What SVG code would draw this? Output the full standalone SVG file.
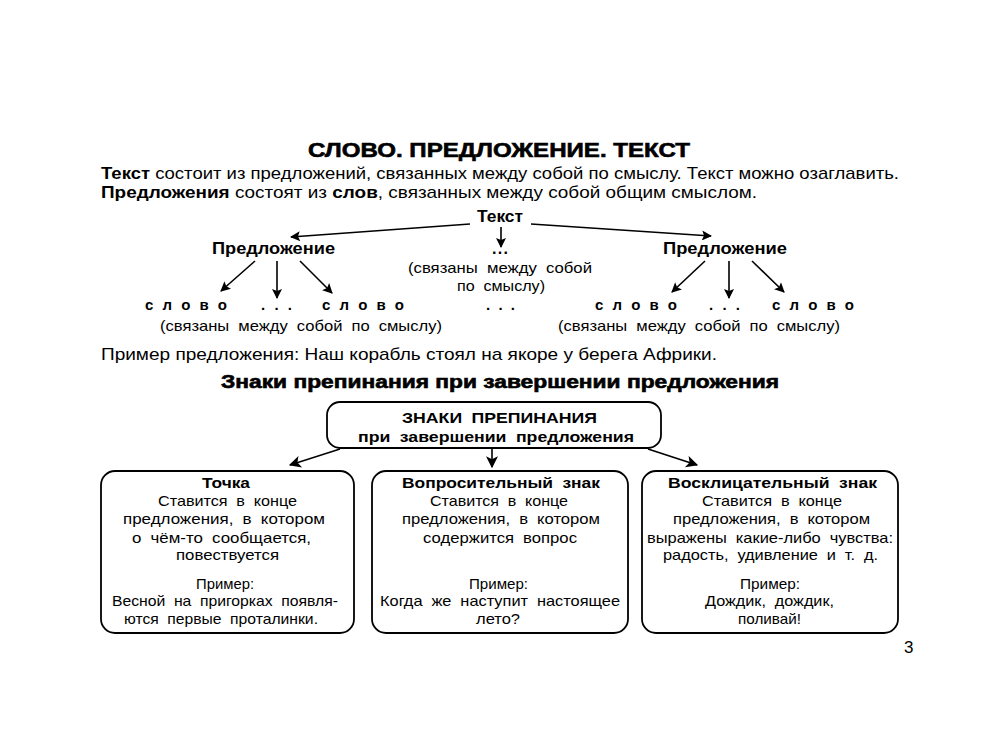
<svg xmlns="http://www.w3.org/2000/svg" width="1000" height="733" viewBox="0 0 1000 733">
<defs>
<marker id="ah" viewBox="0 0 10 10" refX="9" refY="5" markerWidth="11" markerHeight="10" markerUnits="userSpaceOnUse" orient="auto">
<path d="M0,0 L10,5 L0,10 L2,5 z" fill="#000"/>
</marker>
<marker id="ahs" viewBox="0 0 10 10" refX="9" refY="5" markerWidth="14" markerHeight="12" markerUnits="userSpaceOnUse" orient="auto">
<path d="M0,0 L10,5 L0,10 L2.5,5 z" fill="#000"/>
</marker>
<style>
text{font-family:"Liberation Sans",Arial,sans-serif;fill:#000}
.n{font-size:17px}
.b{font-weight:bold}
.hv{font-weight:bold;stroke:#000;stroke-width:0.6}
.bx{font-size:15px;word-spacing:4px}
.md{font-size:15px;word-spacing:4px}
.sp{font-size:15px;font-weight:bold}
.ln{stroke:#000;stroke-width:1.6;fill:none}
.box{fill:#fff;stroke:#000;stroke-width:1.8}
</style>
</defs>
<rect width="1000" height="733" fill="#fff"/>

<g id="title">
<text x="308" y="157" class="hv" font-size="20" textLength="382" lengthAdjust="spacingAndGlyphs">СЛОВО. ПРЕДЛОЖЕНИЕ. ТЕКСТ</text>
</g>
<g id="intro">
<text x="101" y="179" class="n" textLength="798" lengthAdjust="spacingAndGlyphs"><tspan class="b">Текст</tspan> состоит из предложений, связанных между собой по смыслу. Текст можно озаглавить.</text>
<text x="101" y="198" class="n" textLength="656" lengthAdjust="spacingAndGlyphs"><tspan class="b">Предложения</tspan> состоят из <tspan class="b">слов</tspan>, связанных между собой общим смыслом.</text>
</g>

<g id="connectors">
<line class="ln" x1="470" y1="224" x2="291" y2="237" marker-end="url(#ah)"/>
<line class="ln" x1="501" y1="227" x2="501" y2="247" marker-end="url(#ah)"/>
<line class="ln" x1="531" y1="224" x2="711" y2="236" marker-end="url(#ah)"/>
<line class="ln" x1="255" y1="261" x2="221" y2="291" marker-end="url(#ah)"/>
<line class="ln" x1="277" y1="261" x2="277" y2="298" marker-end="url(#ah)"/>
<line class="ln" x1="300" y1="261" x2="332" y2="293" marker-end="url(#ah)"/>
<line class="ln" x1="705" y1="261" x2="672" y2="292" marker-end="url(#ah)"/>
<line class="ln" x1="729" y1="261" x2="729" y2="298" marker-end="url(#ah)"/>
<line class="ln" x1="752" y1="261" x2="784" y2="292" marker-end="url(#ah)"/>
<line class="ln" x1="340" y1="449" x2="290" y2="465" marker-end="url(#ahs)"/>
<line class="ln" x1="492" y1="449" x2="492" y2="467" marker-end="url(#ahs)"/>
<line class="ln" x1="648" y1="449" x2="697" y2="465" marker-end="url(#ahs)"/>
</g>

<g id="tekst"><text x="477" y="222" class="b" font-size="16" textLength="46" lengthAdjust="spacingAndGlyphs">Текст</text></g>
<g id="pred-left"><text x="212" y="254" class="b" font-size="16.5" textLength="123" lengthAdjust="spacingAndGlyphs">Предложение</text></g>
<g id="pred-mid">
<text x="492" y="254" class="b" font-size="16" textLength="16" lengthAdjust="spacing">...</text>
<text x="408" y="273" class="md" textLength="184" lengthAdjust="spacingAndGlyphs">(связаны между собой</text>
<text x="457" y="291" class="md" textLength="88" lengthAdjust="spacingAndGlyphs">по смыслу)</text>
</g>
<g id="pred-right"><text x="663" y="254" class="b" font-size="16.5" textLength="124" lengthAdjust="spacingAndGlyphs">Предложение</text></g>

<g id="words-left">
<text x="145" y="310" class="sp" textLength="82" lengthAdjust="spacing">слово</text>
<text x="261" y="310" class="sp" textLength="31" lengthAdjust="spacing">...</text>
<text x="322" y="310" class="sp" textLength="82" lengthAdjust="spacing">слово</text>
<text x="160" y="331" class="md" textLength="282" lengthAdjust="spacingAndGlyphs">(связаны между собой по смыслу)</text>
</g>
<g id="words-mid"><text x="486" y="310" class="sp" textLength="29" lengthAdjust="spacing">...</text></g>
<g id="words-right">
<text x="595" y="310" class="sp" textLength="82" lengthAdjust="spacing">слово</text>
<text x="709" y="310" class="sp" textLength="31" lengthAdjust="spacing">...</text>
<text x="772" y="310" class="sp" textLength="82" lengthAdjust="spacing">слово</text>
<text x="558" y="331" class="md" textLength="282" lengthAdjust="spacingAndGlyphs">(связаны между собой по смыслу)</text>
</g>

<g id="example">
<text x="101" y="360" class="n" textLength="616" lengthAdjust="spacingAndGlyphs">Пример предложения: Наш корабль стоял на якоре у берега Африки.</text>
</g>
<g id="subtitle">
<text x="221" y="388" class="hv" font-size="18" textLength="558" lengthAdjust="spacingAndGlyphs">Знаки препинания при завершении предложения</text>
</g>

<g id="box-top">
<rect class="box" x="327" y="402" width="334" height="46" rx="13"/>
<text x="402" y="423" class="b" font-size="15.5" word-spacing="4" textLength="195" lengthAdjust="spacingAndGlyphs">ЗНАКИ ПРЕПИНАНИЯ</text>
<text x="358" y="442" class="b" font-size="15.5" word-spacing="4" textLength="276" lengthAdjust="spacingAndGlyphs">при завершении предложения</text>
</g>

<g id="box-tochka">
<rect class="box" x="101" y="471" width="253" height="162" rx="14"/>
<text x="202" y="488" class="bx b" textLength="48" lengthAdjust="spacingAndGlyphs">Точка</text>
<text x="158" y="506" class="bx" textLength="139" lengthAdjust="spacingAndGlyphs">Ставится в конце</text>
<text x="123" y="524" class="bx" textLength="202" lengthAdjust="spacingAndGlyphs">предложения, в котором</text>
<text x="132" y="543" class="bx" textLength="179" lengthAdjust="spacingAndGlyphs">о чём-то сообщается,</text>
<text x="176" y="560" class="bx" textLength="103" lengthAdjust="spacingAndGlyphs">повествуется</text>
<text x="196" y="589" class="bx" textLength="58" lengthAdjust="spacingAndGlyphs">Пример:</text>
<text x="112" y="606" class="bx" textLength="226" lengthAdjust="spacingAndGlyphs">Весной на пригорках появля-</text>
<text x="124" y="624" class="bx" textLength="194" lengthAdjust="spacingAndGlyphs">ются первые проталинки.</text>
</g>

<g id="box-vopros">
<rect class="box" x="372" y="471" width="256" height="162" rx="14"/>
<text x="402" y="488" class="bx b" textLength="198" lengthAdjust="spacingAndGlyphs">Вопросительный знак</text>
<text x="430" y="506" class="bx" textLength="138" lengthAdjust="spacingAndGlyphs">Ставится в конце</text>
<text x="402" y="524" class="bx" textLength="198" lengthAdjust="spacingAndGlyphs">предложения, в котором</text>
<text x="423" y="543" class="bx" textLength="154" lengthAdjust="spacingAndGlyphs">содержится вопрос</text>
<text x="469" y="589" class="bx" textLength="59" lengthAdjust="spacingAndGlyphs">Пример:</text>
<text x="380" y="606" class="bx" textLength="240" lengthAdjust="spacingAndGlyphs">Когда же наступит настоящее</text>
<text x="476" y="624" class="bx" textLength="44" lengthAdjust="spacingAndGlyphs">лето?</text>
</g>

<g id="box-voskl">
<rect class="box" x="642" y="471" width="256" height="162" rx="14"/>
<text x="668" y="488" class="bx b" textLength="209" lengthAdjust="spacingAndGlyphs">Восклицательный знак</text>
<text x="702" y="506" class="bx" textLength="140" lengthAdjust="spacingAndGlyphs">Ставится в конце</text>
<text x="673" y="524" class="bx" textLength="197" lengthAdjust="spacingAndGlyphs">предложения, в котором</text>
<text x="647" y="543" class="bx" textLength="246" lengthAdjust="spacingAndGlyphs">выражены какие-либо чувства:</text>
<text x="663" y="560" class="bx" textLength="215" lengthAdjust="spacingAndGlyphs">радость, удивление и т. д.</text>
<text x="740" y="589" class="bx" textLength="60" lengthAdjust="spacingAndGlyphs">Пример:</text>
<text x="705" y="606" class="bx" textLength="129" lengthAdjust="spacingAndGlyphs">Дождик, дождик,</text>
<text x="738" y="624" class="bx" textLength="63" lengthAdjust="spacingAndGlyphs">поливай!</text>
</g>

<g id="page-num"><text x="904" y="653" font-size="17">3</text></g>
</svg>
